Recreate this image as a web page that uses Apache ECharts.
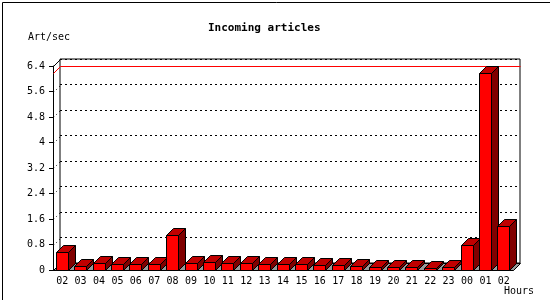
<!DOCTYPE html>
<html>
<head>
<meta charset="utf-8">
<script src="https://cdn.jsdelivr.net/npm/echarts@6/dist/echarts.min.js"></script>
<style>
html, body { margin: 0; padding: 0; background: #fff; }
#chart { width: 550px; height: 300px; }
</style>
</head>
<body>
<div id="chart"></div>
<script>
// hours of the day (starting at 02, wrapping past midnight)
var hours = ['02','03','04','05','06','07','08','09','10','11','12','13','14',
             '15','16','17','18','19','20','21','22','23','00','01','02'];
// articles per second
var rates = [0.56,0.14,0.21,0.18,0.18,0.18,1.09,0.21,0.25,0.21,0.21,0.18,0.18,
             0.18,0.15,0.15,0.12,0.08,0.08,0.08,0.05,0.08,0.78,6.19,1.37];
var yTicks = [0, 0.8, 1.6, 2.4, 3.2, 4, 4.8, 5.6, 6.4];

var depth = 7; // 3d offset
var font = 'DejaVu Sans Mono';
var maxRate = Math.max.apply(null, rates);

var chart = echarts.init(document.getElementById('chart'));

function px(v) { return Math.round(v) + 0.5; }

// background stuff: floor, left wall, max line
function renderDecor(params, api) {
  var cs = params.coordSys;
  var l = px(cs.x), r = px(cs.x + cs.width);
  var t = px(cs.y), b = px(cs.y + cs.height);
  var d = depth;
  var ym = px(api.coord([0, maxRate])[1]);
  var kids = [];
  kids.push({
    type: 'polygon',
    shape: { points: [[l, b], [r, b], [r + d, b - d], [l + d, b - d]] },
    style: { fill: '#999999', stroke: '#000', lineWidth: 1 }
  });
  kids.push({
    type: 'line',
    shape: { x1: l, y1: t, x2: l + d, y2: t - d },
    style: { stroke: '#000', lineWidth: 1 }
  });
  for (var k = 1; k < yTicks.length - 1; k++) {
    var y = px(api.coord([0, yTicks[k]])[1]);
    kids.push({
      type: 'line',
      shape: { x1: l, y1: y, x2: l + d, y2: y - d },
      style: { stroke: '#000', lineWidth: 1, lineDash: [1, 3] }
    });
  }
  kids.push({
    type: 'polyline',
    shape: { points: [[l, ym], [l + d, ym - d], [r + d, ym - d]] },
    style: { stroke: '#ff0000', fill: null, lineWidth: 1 }
  });
  return { type: 'group', children: kids };
}

function renderBar(params, api) {
  var i = api.value(0);
  var base = api.coord([i, 0]);
  var top = api.coord([i, api.value(1)]);
  var d = depth;
  var x0 = px(base[0] - 6.5), x1 = x0 + 12;
  var yb = px(base[1]), yt = px(top[1]);
  var line = { stroke: '#000', lineWidth: 1 };
  return {
    type: 'group',
    children: [
      { type: 'polygon', shape: { points: [[x1, yt], [x1 + d, yt - d], [x1 + d, yb - d], [x1, yb]] },
        style: echarts.util.extend({ fill: '#800000' }, line) },
      { type: 'polygon', shape: { points: [[x0, yt], [x1, yt], [x1 + d, yt - d], [x0 + d, yt - d]] },
        style: echarts.util.extend({ fill: '#c00000' }, line) },
      { type: 'rect', shape: { x: x0, y: yt, width: 12, height: yb - yt },
        style: echarts.util.extend({ fill: '#ff0000' }, line) }
    ]
  };
}

var option = {
  backgroundColor: '#fff',
  animation: false,
  title: {
    text: 'Incoming articles',
    left: 203, top: 18,
    textStyle: { fontFamily: font, fontSize: 11, fontWeight: 'bold', color: '#000' }
  },
  grid: [
    { left: 53, right: 37, top: 66, bottom: 30 },
    { left: 60, right: 30, top: 59, bottom: 37, show: true,
      borderColor: '#000', borderWidth: 1, backgroundColor: '#fff', z: 0 }
  ],
  xAxis: [
    {
      gridIndex: 0, type: 'category', data: hours,
      axisLine: { lineStyle: { color: '#000', width: 1 } },
      axisTick: { length: 4, lineStyle: { color: '#000' } },
      axisLabel: { interval: 0, margin: 6, color: '#000', fontFamily: font, fontSize: 10 }
    },
    { gridIndex: 1, type: 'category', data: hours, show: false }
  ],
  yAxis: [
    {
      gridIndex: 0, type: 'value', min: 0, max: 6.4, interval: 0.8,
      axisLine: { show: true, lineStyle: { color: '#000', width: 1 } },
      axisTick: { show: true, length: 4, lineStyle: { color: '#000' } },
      axisLabel: { margin: 8, color: '#000', fontFamily: font, fontSize: 10 },
      splitLine: { show: false }
    },
    {
      gridIndex: 1, type: 'value', min: 0, max: 6.4, interval: 0.8,
      axisLine: { show: false }, axisTick: { show: false }, axisLabel: { show: false },
      splitLine: { show: true, lineStyle: { color: '#000', width: 1, type: [2, 3] } }
    }
  ],
  graphic: [
    { type: 'text', left: 28, top: 32, style: { text: 'Art/sec', fill: '#000', font: '10px "DejaVu Sans Mono"' } },
    { type: 'text', left: 504, top: 286, style: { text: 'Hours', fill: '#000', font: '10px "DejaVu Sans Mono"' } },
    { type: 'rect', left: 0, top: 0, shape: { x: 0.5, y: 0.5, width: 549, height: 299 },
      style: { fill: null, stroke: '#000', lineWidth: 1 }, z: 100 }
  ],
  series: [
    {
      type: 'custom', xAxisIndex: 0, yAxisIndex: 0, z: 1,
      renderItem: renderDecor, data: [[0, maxRate]], silent: true
    },
    {
      type: 'custom', name: 'Art/sec', xAxisIndex: 0, yAxisIndex: 0, z: 2,
      renderItem: renderBar,
      data: rates.map(function (v, i) { return [i, v]; })
    }
  ]
};

chart.setOption(option);
</script>
</body>
</html>
